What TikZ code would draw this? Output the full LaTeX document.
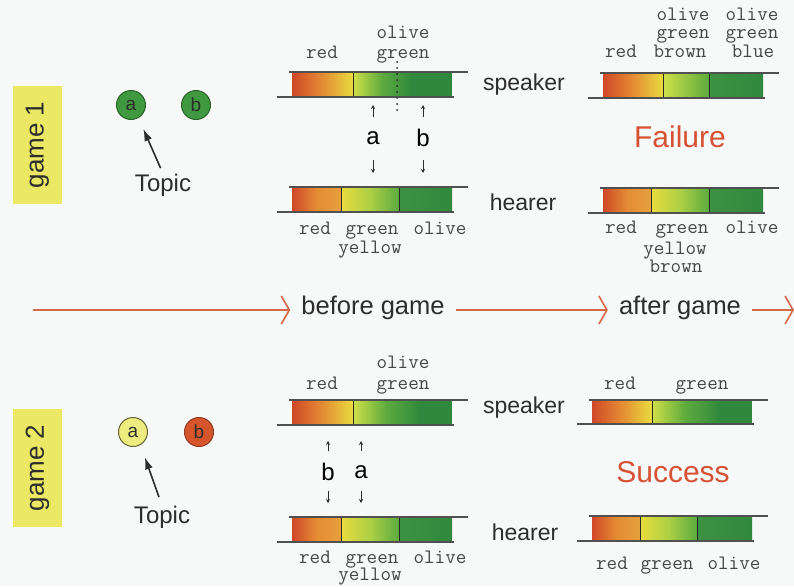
\documentclass[tikz,border=0pt]{standalone}
\usepackage{fontspec}
\setmainfont{Liberation Sans}
\usetikzlibrary{arrows.meta}
\definecolor{pagebg}{RGB}{247,248,248}
\definecolor{txt}{RGB}{45,45,45}
\definecolor{monoc}{RGB}{70,70,70}
\definecolor{cred}{RGB}{208,72,40}
\definecolor{corange}{RGB}{228,140,52}
\definecolor{corange2}{RGB}{230,160,60}
\definecolor{cyellow}{RGB}{232,220,62}
\definecolor{clime}{RGB}{208,224,72}
\definecolor{cgreen}{RGB}{92,170,62}
\definecolor{cdark1}{RGB}{62,145,66}
\definecolor{cdark}{RGB}{48,136,62}
\definecolor{lbl}{RGB}{234,232,100}
\definecolor{fail}{RGB}{214,82,52}
\definecolor{tlc}{RGB}{214,105,72}
\definecolor{barline}{RGB}{80,80,80}
\definecolor{objgreen}{RGB}{64,152,64}
\definecolor{objgreenb}{RGB}{40,100,40}
\definecolor{objyellow}{RGB}{236,236,128}
\definecolor{objyellowb}{RGB}{100,100,50}
\definecolor{objred}{RGB}{215,85,45}
\definecolor{objredb}{RGB}{140,55,30}
\newcommand\seg[5]{\shade[#5] (#1,#3) rectangle (#2,#4);}
\newcommand\frm[4]{\draw[barln] (#1-3,#3) -- (#2+16,#3); \draw[barln] (#1-15,#4) -- (#2+2,#4);}
\newcommand\dvd[3]{\draw[divln] (#1,#2) -- (#1,#3);}
\begin{document}
\begin{tikzpicture}[x=1pt,y=-1pt,
  barln/.style={draw=barline,line width=1.1pt},
  divln/.style={draw=black!85,line width=0.9pt},
  dotln/.style={draw=black!85,line width=2pt,line cap=round,dash pattern=on 0pt off 6pt},
  monolbl/.style={font=\ttfamily\fontsize{20.5}{20.5}\selectfont,text=monoc,inner sep=0pt,anchor=base},
  rolelbl/.style={font=\fontsize{23}{23}\selectfont,text=txt,inner sep=0pt},
  resultlbl/.style={font=\fontsize{30}{30}\selectfont,text=fail,inner sep=0pt},
  gamelbl/.style={fill=lbl,rotate=90,minimum width=118pt,minimum height=49pt,inner sep=0pt,font=\fontsize{26}{26}\selectfont,text=txt},
  obj/.style={circle,minimum size=29pt,inner sep=0pt,line width=1pt,font=\fontsize{19}{19}\selectfont,text=txt},
  topiclbl/.style={font=\fontsize{24}{24}\selectfont,text=txt,inner sep=0pt},
  topicarr/.style={draw=txt,line width=1.6pt,-{Latex[length=12pt,width=8pt]}},
  lettlbl/.style={font=\fontsize{24}{24}\selectfont,text=black,inner sep=0pt},
  smallarr/.style={draw=txt,line width=0.8pt,-{Stealth[length=4pt,width=4pt]}},
  tline/.style={draw=tlc,line width=1.6pt,-{Straight Barb[length=8pt,width=28pt]}},
  tltext/.style={font=\fontsize{25.5}{25.5}\selectfont,text=txt,inner ysep=0pt,inner xsep=11pt},
]
\fill[pagebg] (0,0) rectangle (794,586);
\useasboundingbox (0,0) rectangle (794,586);

% ---------- game labels ----------
\node[gamelbl] (g1) at (37.5,145) {game 1};
\node[gamelbl] (g2) at (37.5,468) {game 2};

% ---------- objects ----------
\node[obj,fill=objgreen,draw=objgreenb] (a1) at (131,105) {a};
\node[obj,fill=objgreen,draw=objgreenb] (b1) at (196,105) {b};
\node[topiclbl] (t1) at (163,185) {Topic};
\draw[topicarr,shorten <=6pt,shorten >=12pt] (t1.north) -- (a1.-60);

\node[obj,fill=objyellow,draw=objyellowb] (a2) at (133,432) {a};
\node[obj,fill=objred,draw=objredb] (b2) at (199,432) {b};
\node[topiclbl] (t2) at (162,517) {Topic};
\draw[topicarr,shorten <=9pt,shorten >=13pt] (t2.north) -- (a2.-60);

% ---------- game 1, before: speaker ----------
\seg{292}{353}{72}{97}{left color=cred,right color=cyellow,middle color=corange}
\seg{353}{412}{72}{97}{left color=clime,right color=cdark,middle color=cgreen}
\fill[cdark] (412,72) rectangle (452,97);
\dvd{353}{72}{97}
\draw[dotln] (397,62) -- (397,111);
\frm{292}{452}{72}{97}
\node[monolbl] (s1red) at (322,59) {red};
\node[monolbl] (s1ol) at (403,39) {olive};
\node[monolbl] (s1gr) at (403,59) {green};
\node[rolelbl] (sp1) at (524,85) {speaker};

% arrows a / b
\node[lettlbl] (la1) at (373,138) {a};
\node[lettlbl] (lb1) at (423,138) {b};
\draw[smallarr] ([yshift=21pt]la1.center) -- ([yshift=33pt]la1.center);
\draw[smallarr] ([yshift=21pt]lb1.center) -- ([yshift=33pt]lb1.center);
\draw[smallarr] ([yshift=-22pt]la1.center) -- ([yshift=-35pt]la1.center);
\draw[smallarr] ([yshift=-22pt]lb1.center) -- ([yshift=-35pt]lb1.center);

% ---------- game 1, before: hearer ----------
\seg{292}{341}{187}{212}{left color=cred,right color=corange2,middle color=corange}
\seg{341}{399}{187}{212}{left color=cyellow,right color=cgreen,middle color=clime!70!cgreen}
\seg{399}{452}{187}{212}{left color=cdark1,right color=cdark}
\dvd{341}{187}{212}
\dvd{399}{187}{212}
\frm{292}{452}{187}{212}
\node[monolbl] (h1red) at (315,234) {red};
\node[monolbl] (h1gr) at (372,234) {green};
\node[monolbl] (h1ol) at (440,234) {olive};
\node[monolbl] (h1ye) at (370,253) {yellow};
\node[rolelbl] (he1) at (523,202) {hearer};

% ---------- game 1, after: speaker ----------
\seg{603}{663}{73}{98}{left color=cred,right color=cyellow,middle color=corange}
\seg{663}{709}{73}{98}{left color=clime,right color=cgreen}
\seg{709}{763}{73}{98}{left color=cdark1,right color=cdark}
\dvd{663}{73}{98}
\dvd{709}{73}{98}
\frm{603}{763}{73}{98}
\node[monolbl] (as1o1) at (683,21) {olive};
\node[monolbl] (as1g1) at (683,39) {green};
\node[monolbl] (as1br) at (680,58) {brown};
\node[monolbl] (as1o2) at (752,21) {olive};
\node[monolbl] (as1g2) at (752,39) {green};
\node[monolbl] (as1bl) at (753,58) {blue};
\node[monolbl] (as1re) at (621,58) {red};

\node[resultlbl] (fail) at (680,137) {Failure};

% ---------- game 1, after: hearer ----------
\seg{603}{651}{188}{213}{left color=cred,right color=corange2,middle color=corange}
\seg{651}{709}{188}{213}{left color=cyellow,right color=cgreen,middle color=clime!70!cgreen}
\seg{709}{763}{188}{213}{left color=cdark1,right color=cdark}
\dvd{651}{188}{213}
\dvd{709}{188}{213}
\frm{603}{763}{188}{213}
\node[monolbl] (ah1re) at (621,233) {red};
\node[monolbl] (ah1gr) at (682,233) {green};
\node[monolbl] (ah1ol) at (752,233) {olive};
\node[monolbl] (ah1ye) at (675,254) {yellow};
\node[monolbl] (ah1br) at (676,272) {brown};

% ---------- timeline ----------
\coordinate (tlstart) at (33,310);
\coordinate (tlend) at (794,310);
\node[tltext] (bg) at (373,308) {before game};
\node[tltext] (ag) at (680,308) {after game};
\draw[tline] (tlstart) -- (tlstart -| bg.west);
\draw[tline] (bg.east |- tlstart) -- (ag.west |- tlstart);
\draw[tline] (ag.east |- tlstart) -- (tlend);

% ---------- game 2, before: speaker ----------
\seg{292}{353}{400}{425}{left color=cred,right color=cyellow,middle color=corange}
\seg{353}{420}{400}{425}{left color=clime,right color=cdark,middle color=cgreen}
\fill[cdark] (420,400) rectangle (452,425);
\dvd{353}{400}{425}
\frm{292}{452}{400}{425}
\node[monolbl] (s2red) at (322,389) {red};
\node[monolbl] (s2ol) at (403,368) {olive};
\node[monolbl] (s2gr) at (403,389) {green};
\node[rolelbl] (sp2) at (524,408) {speaker};

\node[lettlbl] (lb2) at (328,472) {b};
\node[lettlbl] (la2) at (361,472) {a};
\draw[smallarr] ([yshift=21pt]lb2.center) -- ([yshift=31pt]lb2.center);
\draw[smallarr] ([yshift=21pt]la2.center) -- ([yshift=31pt]la2.center);
\draw[smallarr] ([yshift=-19pt]lb2.center) -- ([yshift=-31pt]lb2.center);
\draw[smallarr] ([yshift=-19pt]la2.center) -- ([yshift=-31pt]la2.center);

% ---------- game 2, before: hearer ----------
\seg{292}{341}{517}{542}{left color=cred,right color=corange2,middle color=corange}
\seg{341}{399}{517}{542}{left color=cyellow,right color=cgreen,middle color=clime!70!cgreen}
\seg{399}{452}{517}{542}{left color=cdark1,right color=cdark}
\dvd{341}{517}{542}
\dvd{399}{517}{542}
\frm{292}{452}{517}{542}
\node[monolbl] (h2red) at (315,563) {red};
\node[monolbl] (h2gr) at (372,563) {green};
\node[monolbl] (h2ol) at (440,563) {olive};
\node[monolbl] (h2ye) at (370,580) {yellow};
\node[rolelbl] (he2) at (525,532) {hearer};

% ---------- game 2, after: speaker ----------
\seg{592}{652}{400}{424}{left color=cred,right color=cyellow,middle color=corange}
\seg{652}{720}{400}{424}{left color=clime,right color=cdark,middle color=cgreen}
\fill[cdark] (720,400) rectangle (752,424);
\dvd{652}{400}{424}
\frm{592}{752}{400}{424}
\node[monolbl] (as2re) at (620,389) {red};
\node[monolbl] (as2gr) at (702,389) {green};

\node[resultlbl] (succ) at (673,472) {Success};

% ---------- game 2, after: hearer ----------
\seg{592}{640}{516}{541}{left color=cred,right color=corange2,middle color=corange}
\seg{640}{697}{516}{541}{left color=cyellow,right color=cgreen,middle color=clime!70!cgreen}
\seg{697}{752}{516}{541}{left color=cdark1,right color=cdark}
\dvd{640}{516}{541}
\dvd{697}{516}{541}
\frm{592}{752}{516}{541}
\node[monolbl] (ah2re) at (612,569) {red};
\node[monolbl] (ah2gr) at (667,569) {green};
\node[monolbl] (ah2ol) at (734,569) {olive};
\end{tikzpicture}
\end{document}
